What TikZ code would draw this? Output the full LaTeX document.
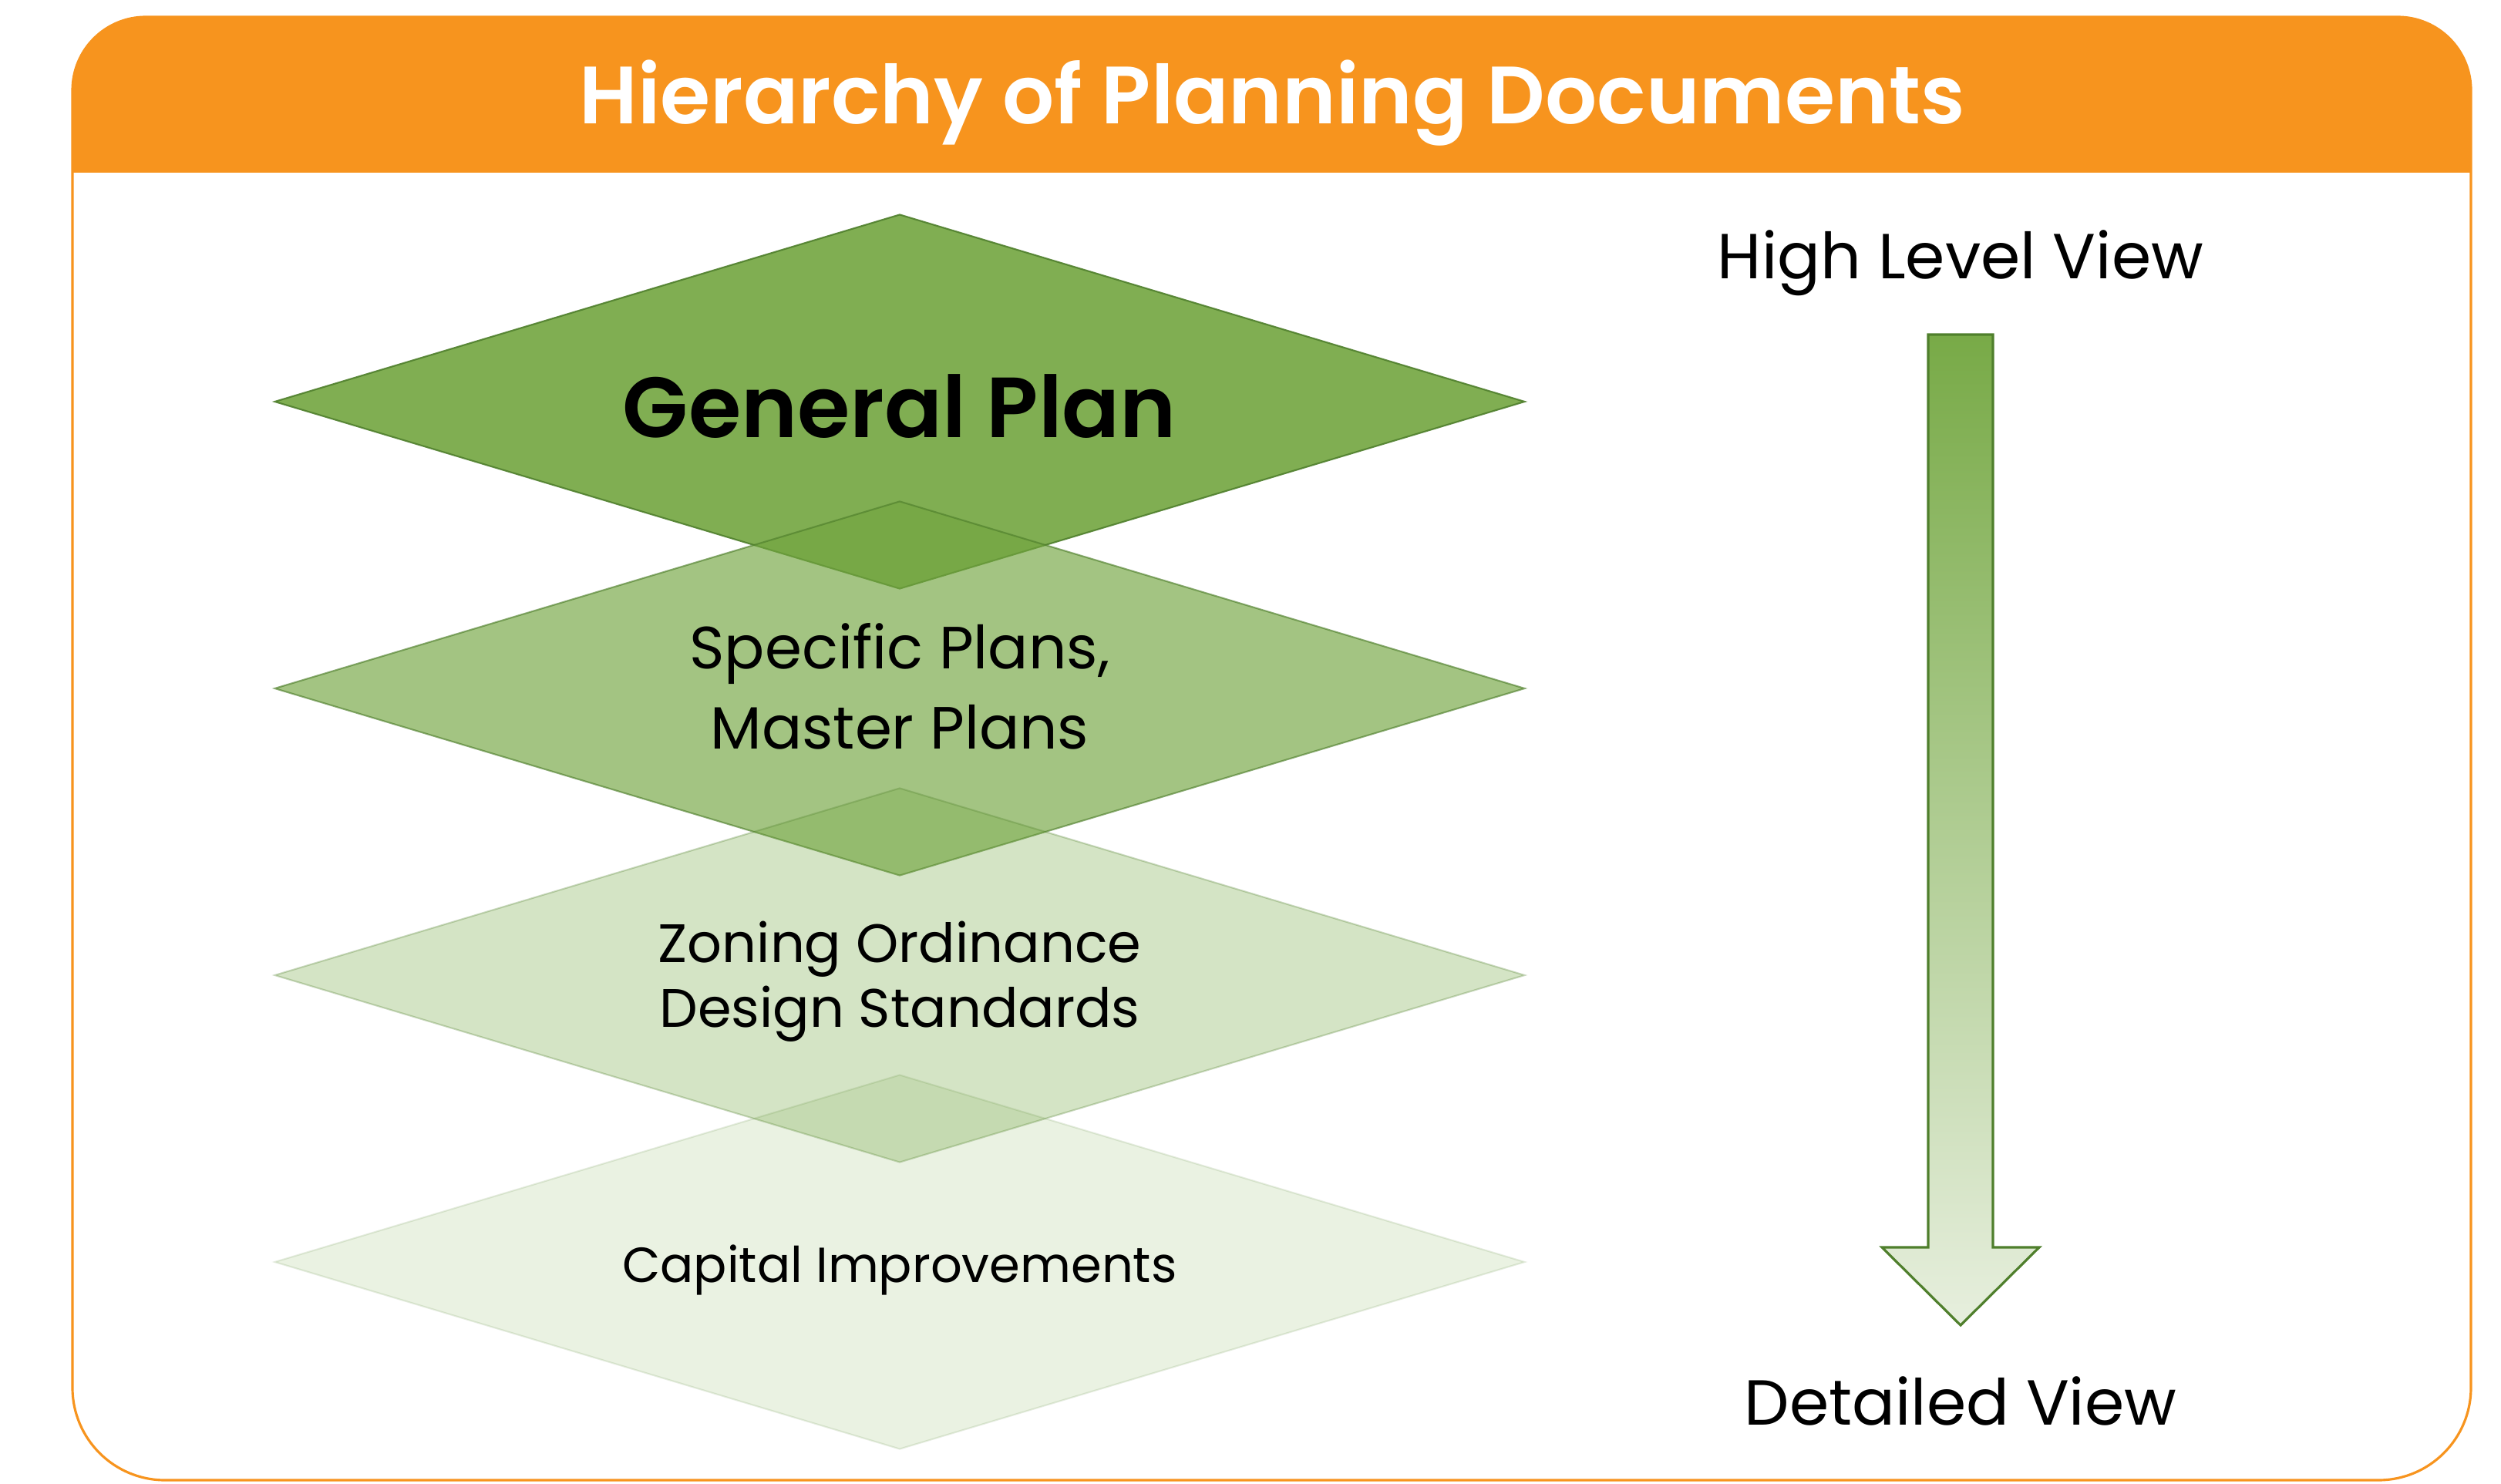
\documentclass[tikz,border=0pt]{standalone}
\usepackage{fontspec}
\setmainfont{Poppins}
\newfontfamily\semibold{Poppins SemiBold}
\usetikzlibrary{shapes.geometric}
\definecolor{planorange}{HTML}{F7941E}
\definecolor{plangreen}{HTML}{72A53F}
\definecolor{planedge}{HTML}{4F7F2C}
\definecolor{arrowtop}{HTML}{78AA47}
\definecolor{arrowbottom}{HTML}{E7EFDE}
\tikzset{
  plate/.style={diamond, aspect=3.34, inner sep=0pt, minimum width=16.22cm, minimum height=4.86cm,
    fill=plangreen, draw=planedge, line width=0.6pt, fill opacity=#1, draw opacity=#1},
  platetext/.style={align=center, inner sep=0pt},
  frame/.style={draw=planorange, line width=0.9pt},
  sidetext/.style={anchor=base, font=\fontsize{23.5}{28}\selectfont}
}
\begin{document}
\begin{tikzpicture}
\useasboundingbox (0,0) rectangle (32.44,19.24);
\fill[planorange] (0.94,17.00) -- (0.94,18.07) arc[start angle=180,end angle=90,radius=0.95]
  -- (31.10,19.02) arc[start angle=90,end angle=0,radius=0.95] -- (32.05,17.00) -- cycle;
\draw[frame] (0.94,1.24) -- (0.94,18.07) arc[start angle=180,end angle=90,radius=0.95]
  -- (31.10,19.02) arc[start angle=90,end angle=0,radius=0.95]
  -- (32.05,1.24) arc[start angle=0,end angle=-90,radius=1.2]
  -- (2.14,0.04) arc[start angle=270,end angle=180,radius=1.2] -- cycle;
\node[anchor=base, text=white, font=\semibold\fontsize{30}{34}\selectfont] (title) at (16.50,17.63) {Hierarchy of Planning Documents};

\node[plate=0.9] (general) at (11.67,14.03) {};
\node[plate=0.65] (specific) at (11.67,10.31) {};
\node[plate=0.3] (zoning) at (11.67,6.59) {};
\node[plate=0.15] (capital) at (11.67,2.87) {};
\node[platetext, font=\semibold\fontsize{31.5}{36}\selectfont] (generaltext) at ([yshift=-0.06cm]general.center) {General Plan};
\node[platetext, font=\fontsize{22}{29.5}\selectfont] (specifictext) at ([yshift=0.03cm]specific.center) {Specific Plans,\\Master Plans};
\node[platetext, font=\fontsize{20}{24}\selectfont] (zoningtext) at ([yshift=-0.08cm]zoning.center) {Zoning Ordinance\\Design Standards};
\node[platetext, font=\fontsize{18.2}{22}\selectfont] (capitaltext) at ([yshift=-0.10cm]capital.center) {Capital Improvements};

\node[sidetext] (highview) at (25.43,15.62) {High Level View};
\node[sidetext] (detailview) at (25.43,0.76) {Detailed View};
\coordinate (shafttop) at (25.43,14.90);
\coordinate (tip) at (25.43,2.05);
\path[top color=arrowtop, bottom color=arrowbottom, draw=planedge, line width=0.9pt]
  (shafttop) ++(-0.42,0) -- ++(0.84,0) -- ++(0,-11.84) -- ++(0.60,0) -- (tip)
  -- ++(-1.02,1.01) -- ++(0.60,0) -- cycle;
\end{tikzpicture}
\end{document}
